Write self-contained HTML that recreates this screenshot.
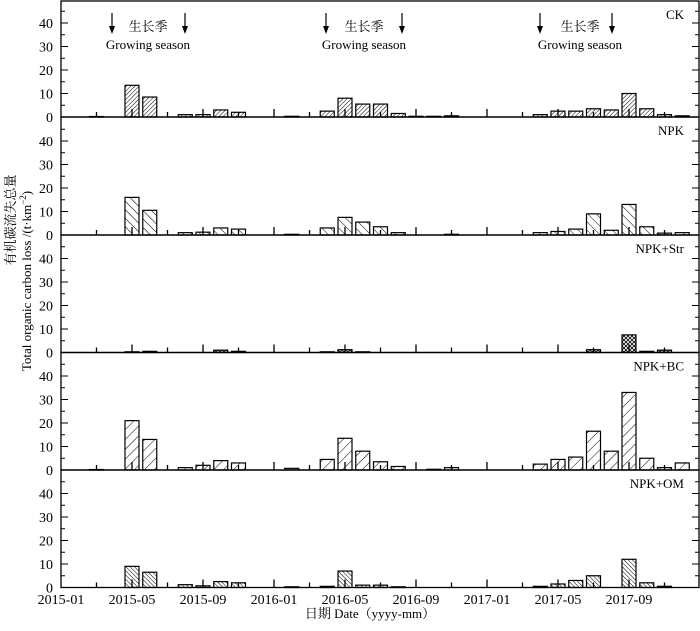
<!DOCTYPE html>
<html><head><meta charset="utf-8"><style>
html,body{margin:0;padding:0;background:#fff;}
svg text{font-family:"Liberation Serif","Noto Serif CJK SC",serif;fill:#000;}
</style></head><body>
<svg id="s" width="700" height="626" xmlns="http://www.w3.org/2000/svg">
<defs>
<pattern id="p0" width="3" height="3" patternUnits="userSpaceOnUse" patternTransform="rotate(45)"><line x1="0" y1="0" x2="0" y2="3" stroke="#000" stroke-width="1"/></pattern>
<pattern id="p1" width="6" height="6" patternUnits="userSpaceOnUse" patternTransform="rotate(-45)"><line x1="0" y1="0" x2="0" y2="6" stroke="#000" stroke-width="1"/></pattern>
<pattern id="p2" width="4" height="4" patternUnits="userSpaceOnUse"><path d="M0,0L4,4M4,0L0,4" stroke="#000" stroke-width="0.8"/></pattern>
<pattern id="p3" width="7" height="7" patternUnits="userSpaceOnUse" patternTransform="rotate(45)"><line x1="0" y1="0" x2="0" y2="7" stroke="#000" stroke-width="1"/></pattern>
<pattern id="p4" width="3" height="3" patternUnits="userSpaceOnUse" patternTransform="rotate(-45)"><line x1="0" y1="0" x2="0" y2="3" stroke="#000" stroke-width="1"/></pattern>
</defs>
<g id="g"></g>
<text x="20" y="220" font-size="13" text-anchor="middle" transform="rotate(-90 20 220)" dy="-5">有机碳流失总量</text>
<text x="31" y="281" font-size="13" text-anchor="middle" transform="rotate(-90 31 281)">Total organic carbon loss /(t·km<tspan font-size="9" dy="-5">−2</tspan><tspan dy="5">)</tspan></text>
<text x="370" y="618" font-size="13" text-anchor="middle">日期  Date（yyyy-mm）</text>
</svg>
<script>
const g=document.getElementById('g');let h='';
const L=61,R=699,mw=17.75,sc=2.35;
const zeros=[117,235,352.5,470,587.5];const tops=[1,117,235,352.5,470];
const names=['CK','NPK','NPK+Str','NPK+BC','NPK+OM'];
const data=[
{2:.2,4:13.5,5:8.5,7:1,8:1,9:3,10:2,13:.3,15:2.5,16:8,17:5.5,18:5.5,19:1.5,20:.3,21:.3,22:.5,27:1,28:2.5,29:2.5,30:3.5,31:3,32:10,33:3.5,34:1,35:.5},
{4:16,5:10.5,7:1,8:1.2,9:3,10:2.5,13:.3,15:3,16:7.5,17:5.5,18:3.5,19:1,22:.3,27:1,28:1.5,29:2.5,30:9,31:2,32:13,33:3.5,34:.8,35:1},
{4:.3,5:.5,9:1,10:.5,15:.3,16:1.2,17:.3,30:1.2,32:7.5,33:.5,34:1},
{2:.2,4:21,5:13,7:1,8:2,9:4,10:3,13:.7,15:4.5,16:13.5,17:8,18:3.5,19:1.5,21:.3,22:1,27:2.5,28:4.5,29:5.5,30:16.5,31:8,32:33,33:5,34:1,35:3},
{4:9,5:6.5,7:1.2,8:.7,9:2.5,10:2,13:.3,15:.5,16:7,17:1,18:1,19:.3,27:.5,28:1.5,29:3,30:5,32:12,33:2,34:.5}];
for(let p=0;p<5;p++){const z=zeros[p],t=tops[p];
 for(const k in data[p]){const v=data[p][k],x=L+mw*k-7,hh=v*sc;
  h+=`<rect x="${x}" y="${z-hh}" width="14" height="${hh}" fill="url(#p${p})" stroke="#000" stroke-width="1.2"/>`;}
 h+=`<rect x="${L}" y="${t}" width="${R-L}" height="${z-t}" fill="none" stroke="#000" stroke-width="1.3"/>`;
 for(let v=0;v<=45;v+=5){const y=z-v*sc,len=v%10==0?7:4;if(y<t+1)continue;
  h+=`<line x1="${L}" y1="${y}" x2="${L+len}" y2="${y}" stroke="#000"/><line x1="${R}" y1="${y}" x2="${R-len}" y2="${y}" stroke="#000"/>`;
  if(v%10==0)h+=`<text x="53" y="${y+5}" font-size="14" text-anchor="end">${v}</text>`;}
 for(let m=2;m<36;m+=2){const x=L+mw*m,len=m%4==0?8:5;h+=`<line x1="${x}" y1="${z}" x2="${x}" y2="${z-len}" stroke="#000" stroke-width="1.3"/>`;}
 h+=`<text x="684" y="${t+18}" font-size="13" text-anchor="end">${names[p]}</text>`;}
const lab=['2015-01','2015-05','2015-09','2016-01','2016-05','2016-09','2017-01','2017-05','2017-09'];
lab.forEach((s,i)=>{h+=`<text x="${L+mw*4*i}" y="604" font-size="14" text-anchor="middle">${s}</text>`;});
[[112,185,148],[326,402,364],[540,612,580]].forEach(a=>{
 [a[0],a[1]].forEach(x=>{h+=`<line x1="${x}" y1="13" x2="${x}" y2="28" stroke="#000" stroke-width="1.2"/><path d="M${x-3},26L${x+3},26L${x},34Z" fill="#000"/>`;});
 h+=`<text x="${a[2]}" y="31" font-size="13" text-anchor="middle">生长季</text><text x="${a[2]}" y="49" font-size="13" text-anchor="middle">Growing season</text>`;});
g.innerHTML=h;
</script>
</body></html>
